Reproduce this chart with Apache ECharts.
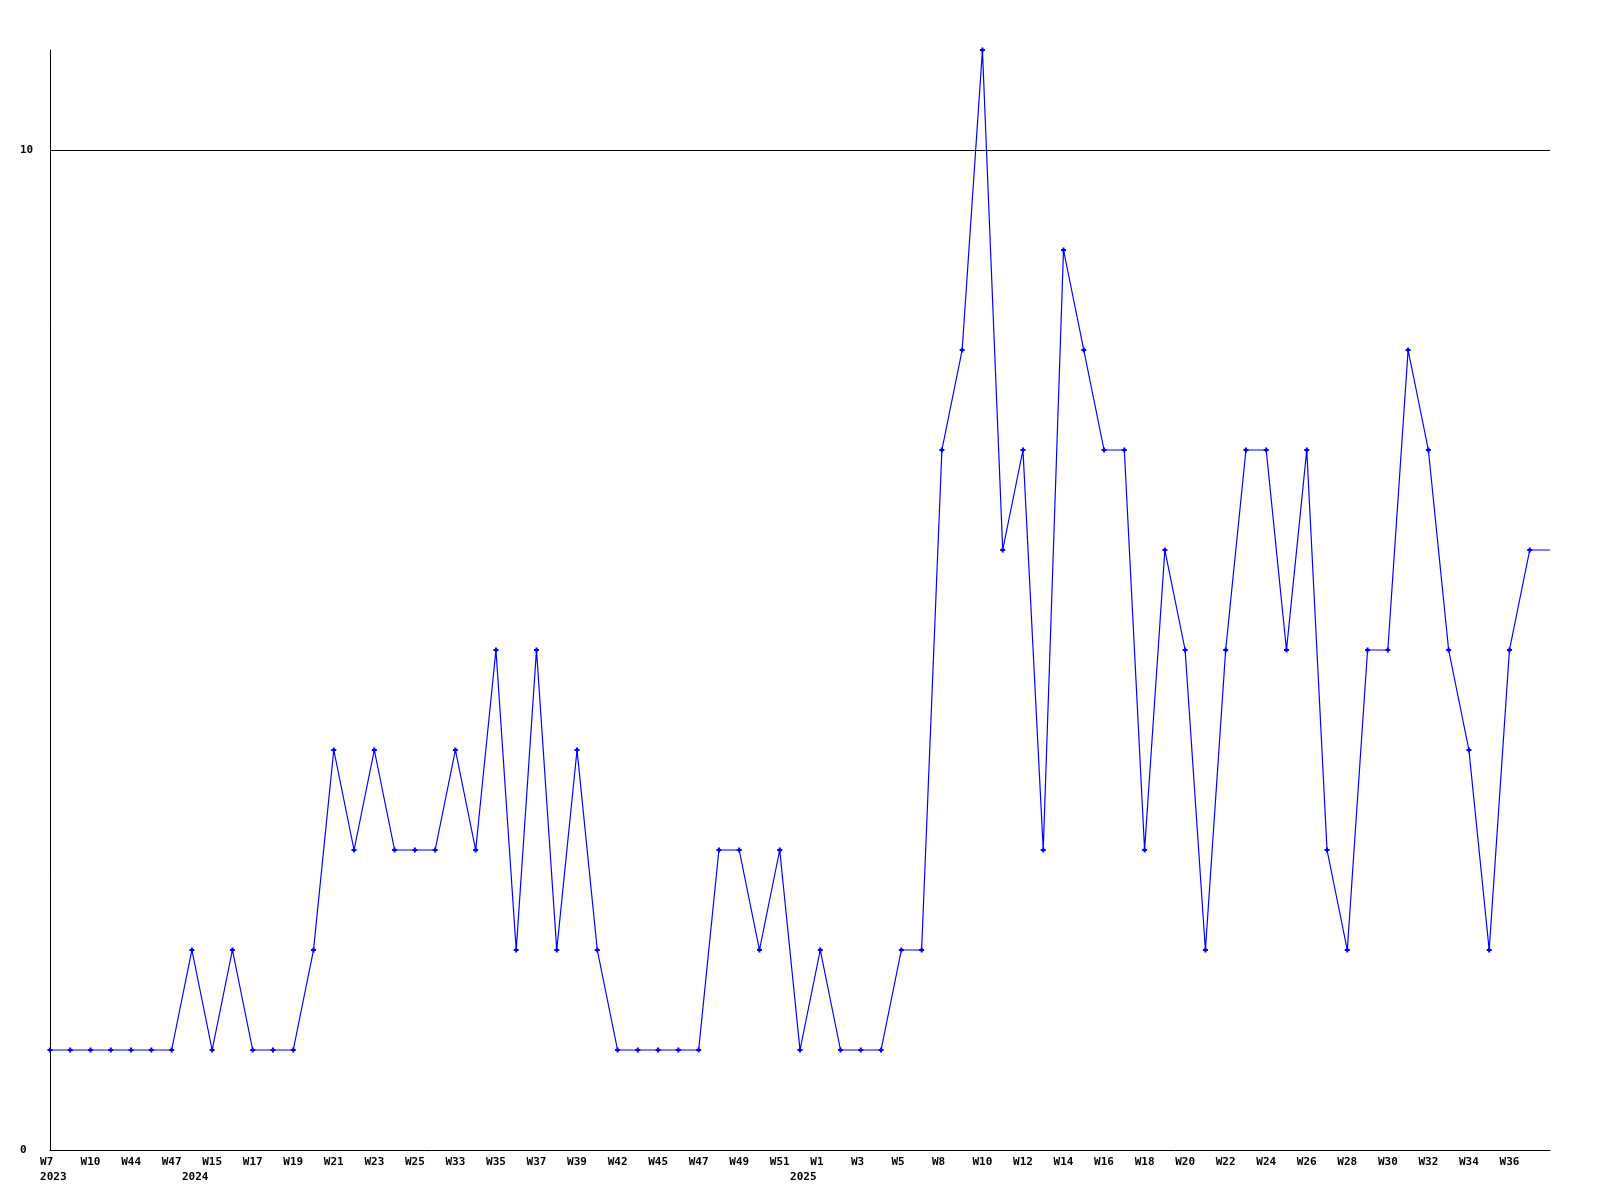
<!DOCTYPE html>
<html>
<head>
<meta charset="utf-8">
<script src="https://cdn.jsdelivr.net/npm/echarts@6/dist/echarts.min.js"></script>
<style>
  html, body { margin: 0; padding: 0; background: #fff; }
  #chart { width: 1600px; height: 1200px; }
</style>
</head>
<body>
<div id="chart"></div>
<script>
// weekly categories (only every other one is labelled on the axis)
const weeks = [
  'W7', 'W8', 'W10', 'W43', 'W44', 'W45', 'W47', 'W14', 'W15', 'W16',
  'W17', 'W18', 'W19', 'W20', 'W21', 'W22', 'W23', 'W24', 'W25', 'W26',
  'W33', 'W34', 'W35', 'W36', 'W37', 'W38', 'W39', 'W40', 'W42', 'W43',
  'W45', 'W46', 'W47', 'W48', 'W49', 'W50', 'W51', 'W52', 'W1', 'W2',
  'W3', 'W4', 'W5', 'W6', 'W8', 'W9', 'W10', 'W11', 'W12', 'W13',
  'W14', 'W15', 'W16', 'W17', 'W18', 'W19', 'W20', 'W21', 'W22', 'W23',
  'W24', 'W25', 'W26', 'W27', 'W28', 'W29', 'W30', 'W31', 'W32', 'W33',
  'W34', 'W35', 'W36', 'W37'
]
// year captions, keyed by category index
const yearLabels = { 0: '2023', 7: '2024', 37: '2025' }

const counts = [
  1, 1, 1, 1, 1, 1, 1, 2, 1, 2,
  1, 1, 1, 2, 4, 3, 4, 3, 3, 3,
  4, 3, 5, 2, 5, 2, 4, 2, 1, 1,
  1, 1, 1, 3, 3, 2, 3, 1, 2, 1,
  1, 1, 2, 2, 7, 8, 11, 6, 7, 3,
  9, 8, 7, 7, 3, 6, 5, 2, 5, 7,
  7, 5, 7, 3, 2, 5, 5, 8, 7, 5,
  4, 2, 5, 6
]

// the line runs on flat to the right edge after the last week
const cats = weeks.concat([''])
const seriesData = counts.map(v => v)
seriesData.push({ value: counts[counts.length - 1], symbol: 'none' })

const font = 'DejaVu Sans Mono'
const plus = 'path://M1.5,0H3.5V1.5H5V3.5H3.5V5H1.5V3.5H0V1.5H1.5Z'

const myChart = echarts.init(document.getElementById('chart'))
const option = {
  animation: false,
  backgroundColor: '#fff',
  grid: { left: 50, right: 50, top: 50, bottom: 50 },
  xAxis: {
    type: 'category',
    data: cats,
    boundaryGap: false,
    axisLine: { lineStyle: { color: '#000', width: 1 } },
    axisTick: { show: false },
    splitLine: { show: false },
    axisLabel: {
      interval: function (idx) {
        return idx % 2 === 0 || yearLabels[idx] !== undefined
      },
      margin: 5,
      color: '#000',
      fontFamily: font,
      fontWeight: 'bold',
      fontSize: 11,
      lineHeight: 15,
      align: 'center',
      formatter: function (val, idx) {
        let w = idx % 2 === 0 ? val : ''
        if (w.length === 2) w = w + ' '
        const y = yearLabels[idx]
        return y ? w + '\n ' + y : w
      }
    }
  },
  yAxis: {
    type: 'value',
    min: 0,
    max: 11,
    interval: 10,
    axisLine: { show: true, lineStyle: { color: '#000', width: 1 } },
    axisTick: { show: false },
    splitLine: { show: false },
    axisLabel: {
      showMaxLabel: false,
      align: 'left',
      margin: 30,
      color: '#000',
      fontFamily: font,
      fontWeight: 'bold',
      fontSize: 11
    }
  },
  series: [
    {
      type: 'line',
      data: seriesData,
      symbol: plus,
      symbolSize: 5,
      showAllSymbol: true,
      lineStyle: { color: '#0000ff', width: 1.2 },
      itemStyle: { color: '#0000ff' },
      markLine: {
        silent: true,
        symbol: 'none',
        label: { show: false },
        lineStyle: { color: '#000', width: 1, type: 'solid' },
        data: [{ yAxis: 10 }]
      }
    }
  ]
}
myChart.setOption(option)
</script>
</body>
</html>
